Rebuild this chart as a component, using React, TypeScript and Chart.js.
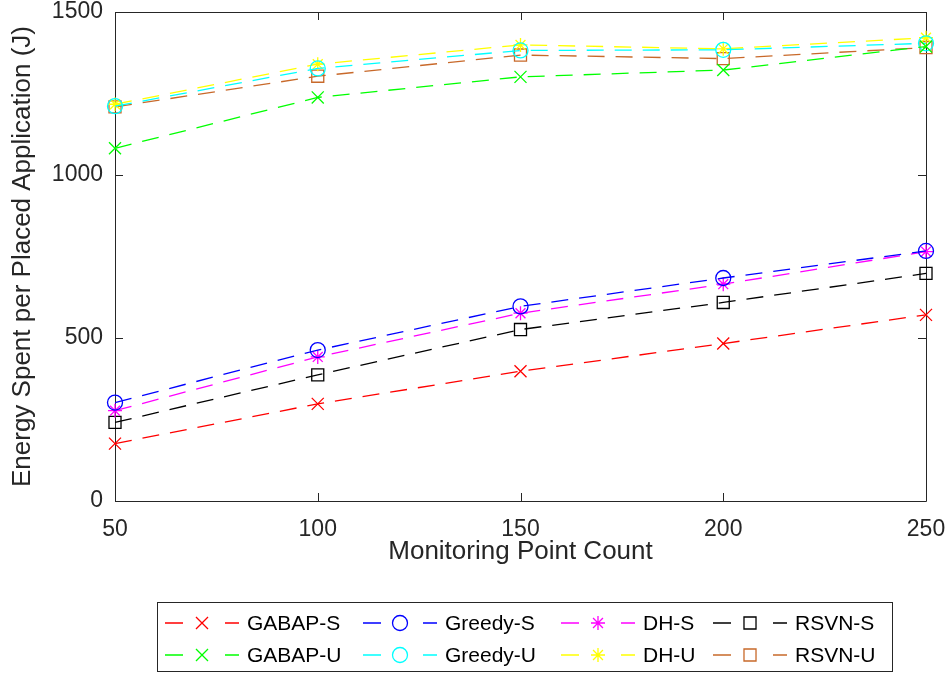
import { useEffect, useRef } from "react";
import { Chart, Plugin, registerables } from "chart.js";
import { drawPoint } from "chart.js/helpers";

Chart.register(...registerables);
Chart.defaults.font.family = "'Liberation Sans', Arial, sans-serif";

const pointCounts = [50, 100, 150, 200, 250];
const xTicks = [50, 100, 150, 200, 250];
const yTicks = [0, 500, 1000, 1500];

const gabapS = [176, 298, 398, 483, 571];
const greedyS = [302, 463, 597, 684, 767];
const dhS = [277, 442, 576, 665, 765];
const rsvnS = [241, 387, 526, 609, 698];
const gabapU = [1082, 1238, 1301, 1322, 1394];
const greedyU = [1211, 1327, 1382, 1384, 1404];
const dhU = [1217, 1340, 1399, 1387, 1421];
const rsvnU = [1209, 1303, 1368, 1357, 1391];

const seriesNames = ["GABAP-S", "Greedy-S", "DH-S", "RSVN-S", "GABAP-U", "Greedy-U", "DH-U", "RSVN-U"];
const seriesValues = [gabapS, greedyS, dhS, rsvnS, gabapU, greedyU, dhU, rsvnU];
const seriesColors = ["#ff0000", "#0000ff", "#ff00ff", "#000000", "#00ff00", "#00ffff", "#ffff00", "#c8692a"];
const seriesMarkers = ["crossRot", "circle", "star", "rect", "crossRot", "circle", "star", "rect"];
const markerRadius: Record<string, number> = { crossRot: 8.5, circle: 7.5, star: 7, rect: 8.5 };

const AXIS = "#262626";

// MATLAB-style box with inward tick marks
const boxPlugin: Plugin = {
  id: "box",
  beforeDatasetsDraw(chart) {
    const { ctx, chartArea: a, scales } = chart;
    ctx.save();
    ctx.strokeStyle = AXIS;
    ctx.lineWidth = 1;
    ctx.beginPath();
    ctx.rect(a.left + 0.5, a.top + 0.5, a.right - a.left, a.bottom - a.top);
    const len = 8;
    for (const v of xTicks) {
      const px = Math.round(scales.x.getPixelForValue(v)) + 0.5;
      ctx.moveTo(px, a.bottom);
      ctx.lineTo(px, a.bottom - len);
      ctx.moveTo(px, a.top);
      ctx.lineTo(px, a.top + len);
    }
    for (const v of yTicks) {
      const py = Math.round(scales.y.getPixelForValue(v)) + 0.5;
      ctx.moveTo(a.left, py);
      ctx.lineTo(a.left + len, py);
      ctx.moveTo(a.right, py);
      ctx.lineTo(a.right - len, py);
    }
    ctx.stroke();
    ctx.restore();
  },
};

// legend in 4 columns x 2 rows, boxed, as in the figure
const legendPlugin: Plugin = {
  id: "boxLegend",
  afterDraw(chart) {
    const { ctx } = chart;
    const box = { left: 157, top: 602, right: 892, bottom: 671 };
    const colX = [165, 363, 561, 713];
    const rowY = [623, 655];
    ctx.save();
    ctx.fillStyle = "#ffffff";
    ctx.fillRect(box.left, box.top, box.right - box.left, box.bottom - box.top);
    ctx.strokeStyle = AXIS;
    ctx.lineWidth = 1;
    ctx.strokeRect(box.left + 0.5, box.top + 0.5, box.right - box.left, box.bottom - box.top);
    seriesNames.forEach((name, i) => {
      const x0 = colX[i % 4];
      const y = rowY[Math.floor(i / 4)];
      const color = seriesColors[i];
      ctx.strokeStyle = color;
      ctx.lineWidth = 1.3;
      ctx.beginPath();
      ctx.moveTo(x0, y);
      ctx.lineTo(x0 + 18, y);
      ctx.moveTo(x0 + 60, y);
      ctx.lineTo(x0 + 74, y);
      ctx.stroke();
      ctx.fillStyle = "rgba(0,0,0,0)";
      drawPoint(ctx, { pointStyle: seriesMarkers[i] as any, radius: markerRadius[seriesMarkers[i]], rotation: 0, borderWidth: 1.3 }, x0 + 37, y);
      ctx.fillStyle = "#000000";
      ctx.font = "21px 'Liberation Sans', Arial, sans-serif";
      ctx.textBaseline = "middle";
      ctx.textAlign = "left";
      ctx.fillText(name, x0 + 82, y + 1);
    });
    ctx.restore();
  },
};

export default function App() {
  const canvasRef = useRef<HTMLCanvasElement | null>(null);

  useEffect(() => {
    if (!canvasRef.current) return;
    const chart = new Chart(canvasRef.current, {
      type: "line",
      data: {
        datasets: seriesNames.map((name, i) => ({
          label: name,
          data: pointCounts.map((x, j) => ({ x, y: seriesValues[i][j] })),
          borderColor: seriesColors[i],
          backgroundColor: "rgba(0,0,0,0)",
          borderWidth: 1.3,
          borderDash: [17, 11],
          pointStyle: seriesMarkers[i] as any,
          pointRadius: markerRadius[seriesMarkers[i]],
          pointBorderColor: seriesColors[i],
          pointBackgroundColor: "rgba(0,0,0,0)",
          pointBorderWidth: 1.3,
          tension: 0,
          fill: false,
          clip: false as any,
        })),
      },
      options: {
        responsive: false,
        animation: false,
        layout: { padding: { top: 0, right: 0, bottom: 108, left: 0 } },
        plugins: { legend: { display: false }, tooltip: { enabled: false } },
        scales: {
          x: {
            type: "linear",
            min: 50,
            max: 250,
            afterFit: (s: any) => {
              s.height = 66;
              s.paddingLeft = 0;
              s.paddingRight = 23;
            },
            afterBuildTicks: (s: any) => {
              s.ticks = xTicks.map((v) => ({ value: v }));
            },
            ticks: { font: { size: 23 }, color: AXIS, padding: 15, callback: (v: any) => String(v) },
            grid: { display: false, drawTicks: false },
            border: { display: false },
            title: {
              display: true,
              text: "Monitoring Point Count",
              font: { size: 26 },
              color: AXIS,
              padding: { top: 0, bottom: 0 },
            },
          },
          y: {
            min: 0,
            max: 1500,
            afterFit: (s: any) => {
              s.width = 115;
              s.paddingTop = 12;
              s.paddingBottom = 0;
            },
            afterBuildTicks: (s: any) => {
              s.ticks = yTicks.map((v) => ({ value: v }));
            },
            ticks: { font: { size: 23 }, color: AXIS, padding: 12, callback: (v: any) => String(v) },
            grid: { display: false, drawTicks: false },
            border: { display: false },
            title: {
              display: true,
              text: "Energy Spent per Placed Application (J)",
              font: { size: 26 },
              color: AXIS,
              padding: { top: 7, bottom: 0 },
            },
          },
        },
      },
      plugins: [boxPlugin, legendPlugin],
    });
    return () => chart.destroy();
  }, []);

  return (
    <div style={{ position: "fixed", left: 0, top: 0, width: 949, height: 675, background: "#fff" }}>
      <canvas ref={canvasRef} width={949} height={675} style={{ width: 949, height: 675 }} />
    </div>
  );
}
